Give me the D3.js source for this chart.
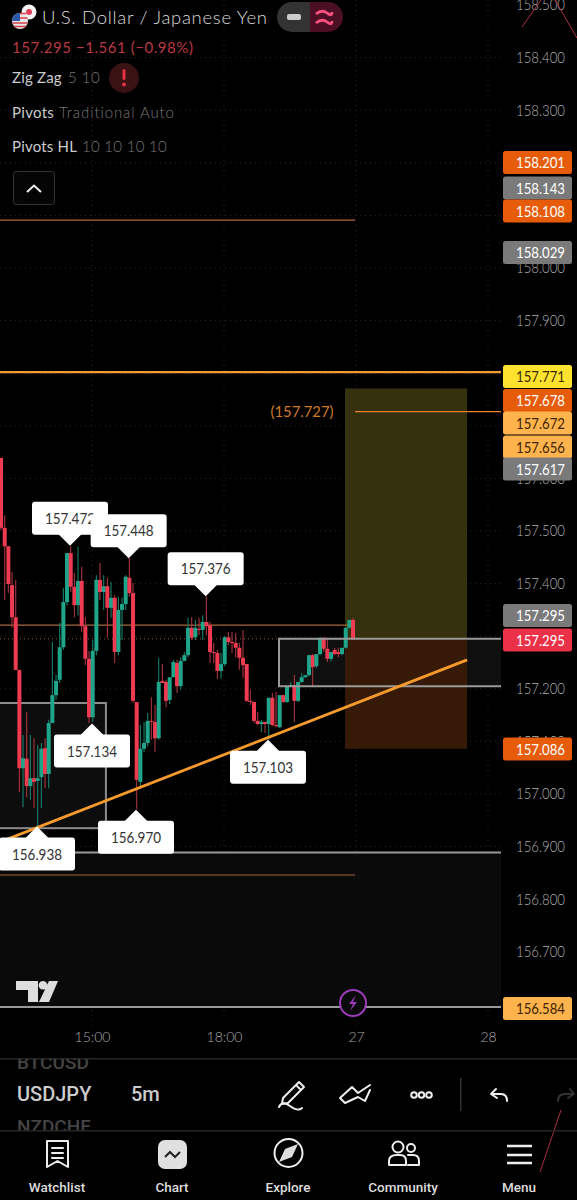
<!DOCTYPE html>
<html><head><meta charset="utf-8">
<script src="https://cdn.jsdelivr.net/npm/d3@7"></script>
<style>html,body{margin:0;background:#000;overflow:hidden}svg{display:block}</style>
</head><body><svg id="c" width="577" height="1200"></svg>
<script>
// ---- data ----
const firstBar = -25; // bar number of first candle; bar 0 = 15:00, one bar = 5m
const opens = [157.639,157.506,157.471,157.397,157.336,157.236,157.049,157.067,157.015,157.030,157.025,157.032,157.087,157.038,157.135,157.188,157.217,157.279,157.365,157.458,157.394,157.359,157.405,157.319,157.257,157.146,157.272,157.407,157.384,157.395,157.354,157.373,157.270,157.350,157.361,157.411,157.382,157.175,157.023,157.086,157.097,157.139,157.137,157.106,157.215,157.213,157.179,157.222,157.249,157.205,157.253,157.264,157.316,157.298,157.314,157.312,157.327,157.321,157.270,157.268,157.234,157.247,157.298,157.289,157.287,157.278,157.259,157.247,157.177,157.175,157.139,157.133,157.137,157.133,157.183,157.131,157.127,157.188,157.175,157.205,157.207,157.177,157.213,157.222,157.226,157.264,157.243,157.266,157.297,157.276,157.257,157.274,157.270,157.266,157.278,157.316,157.331];
const highs = [157.639,157.530,157.471,157.422,157.407,157.236,157.112,157.156,157.112,157.106,157.093,157.097,157.106,157.141,157.289,157.226,157.325,157.392,157.458,157.471,157.420,157.470,157.432,157.336,157.272,157.293,157.416,157.439,157.416,157.411,157.403,157.378,157.375,157.373,157.416,157.449,157.401,157.175,157.131,157.137,157.154,157.184,157.169,157.259,157.247,157.217,157.222,157.255,157.255,157.260,157.270,157.335,157.336,157.331,157.335,157.340,157.376,157.327,157.287,157.274,157.268,157.300,157.308,157.308,157.306,157.287,157.312,157.247,157.198,157.175,157.156,157.141,157.137,157.143,157.192,157.194,157.137,157.188,157.203,157.213,157.226,157.211,157.230,157.223,157.228,157.266,157.264,157.268,157.298,157.297,157.261,157.278,157.278,157.274,157.278,157.318,157.335,157.331];
const lows = [157.502,157.369,157.382,157.316,157.236,157.004,156.975,156.994,156.989,156.973,156.937,156.973,157.011,157.011,157.135,157.179,157.211,157.274,157.359,157.384,157.336,157.340,157.308,157.245,157.135,157.137,157.264,157.369,157.350,157.297,157.335,157.249,157.264,157.293,157.350,157.375,157.173,156.971,157.011,157.080,157.091,157.103,157.080,157.103,157.211,157.165,157.171,157.222,157.192,157.198,157.253,157.260,157.293,157.293,157.302,157.293,157.302,157.249,157.249,157.219,157.219,157.243,157.283,157.268,157.260,157.236,157.221,157.175,157.169,157.135,157.131,157.118,157.116,157.103,157.129,157.127,157.125,157.173,157.173,157.205,157.137,157.175,157.211,157.221,157.224,157.203,157.239,157.264,157.270,157.251,157.252,157.264,157.260,157.264,157.276,157.314,157.293];
const closes = [157.506,157.471,157.399,157.336,157.236,157.049,157.068,157.015,157.030,157.023,157.030,157.086,157.038,157.135,157.188,157.215,157.279,157.365,157.458,157.394,157.359,157.405,157.319,157.257,157.146,157.272,157.407,157.384,157.395,157.354,157.373,157.270,157.350,157.361,157.413,157.382,157.177,157.027,157.086,157.097,157.139,157.137,157.106,157.213,157.211,157.177,157.222,157.251,157.205,157.253,157.264,157.316,157.297,157.316,157.312,157.327,157.319,157.270,157.268,157.234,157.247,157.298,157.289,157.287,157.278,157.259,157.245,157.177,157.175,157.139,157.133,157.137,157.133,157.183,157.131,157.129,157.188,157.175,157.205,157.207,157.177,157.213,157.222,157.226,157.264,157.241,157.266,157.297,157.276,157.257,157.270,157.266,157.266,157.278,157.316,157.331,157.295];
const priceTicks = [158.5,158.4,158.3,158.0,157.9,157.6,157.5,157.4,157.2,157.1,157.0,156.9,156.8,156.7];
const gridPrices = [158.4,158.3,158.2,158.1,158.0,157.9,157.8,157.7,157.6,157.5,157.4,157.3,157.2,157.1,157.0,156.9,156.8,156.7];
const timeTickBars = [0,36,72,108];
const timeTickLabels = ["15:00","18:00","27","28"];
const tagValues = ["158.201","158.143","158.108","158.029","157.771","157.678","157.672","157.656","157.617","157.295","157.295","157.086","156.584"];
const tagKinds = ["o","g","o","g","y","o","l","l","g","g","r","o","l"];
const pivotValues = [157.472,157.448,157.376,157.134,156.970,156.938,157.103];
const pivotBars = [-6,10,31,0,12,-15,48];
const pivotSides = ["up","up","up","down","down","down","down"];
const solidLevels = [158.091,157.802,156.889,156.595];
const thinLevels = [158.091,157.321,156.846];
const entryPrice = 157.295, targetPrice = 157.771, stopPrice = 157.086, midTarget = 157.727;
const trendBars = [-25,102.3], trendPrices = [156.909,157.255];
const boxA = {bars:[-30,3.8], prices:[157.173,156.935]};
const boxB = {bars:[51,111], prices:[157.295,157.205]};

// ---- scales ----
const W = 577, plotR = 501;
const x = d3.scaleLinear().domain([0,36]).range([92,224]);
const y = d3.scaleLinear().domain([157.5,156.9]).range([531,846.6]);
const svg = d3.select("#c");
const sans = "Lato, 'Noto Sans', sans-serif";
svg.append("rect").attr("width",W).attr("height",1200).attr("fill","#000");

// grid
const grid = svg.append("g").attr("stroke","#262626").attr("stroke-dasharray","1 4");
gridPrices.forEach(p=>grid.append("line").attr("x1",0).attr("x2",plotR).attr("y1",y(p)).attr("y2",y(p)));
timeTickBars.forEach(b=>grid.append("line").attr("x1",x(b)).attr("x2",x(b)).attr("y1",0).attr("y2",1028));

// shaded zones
svg.append("rect").attr("x",0).attr("width",plotR).attr("y",y(156.889)).attr("height",y(156.595)-y(156.889)).attr("fill","#0a0a0a");
function box(b){
  svg.append("rect").attr("x",Math.max(-3,x(b.bars[0]))).attr("y",y(b.prices[0]))
    .attr("width",x(b.bars[1])-Math.max(-3,x(b.bars[0]))).attr("height",y(b.prices[1])-y(b.prices[0]))
    .attr("fill","#0d0d0d").attr("stroke","#8c8c8c").attr("stroke-width",2);
}
box(boxA);
svg.append("rect").attr("x",x(51)).attr("y",y(157.295)).attr("width",plotR-x(51)).attr("height",y(157.205)-y(157.295)).attr("fill","#0f0f0f");

// long position
const lx0 = x(69), lx1 = 467;
svg.append("rect").attr("x",lx0).attr("width",lx1-lx0).attr("y",y(targetPrice)).attr("height",y(entryPrice)-y(targetPrice)).attr("fill","#35310e");
svg.append("rect").attr("x",lx0).attr("width",lx1-lx0).attr("y",y(entryPrice)).attr("height",y(stopPrice)-y(entryPrice)).attr("fill","#361a07");

// levels
const lv = svg.append("g");
[[158.091,355,"#b0683a",1.2],[157.321,355,"#a5683c",1.2],[156.846,355,"#a8623a",1.2]].forEach(d=>
  lv.append("line").attr("x1",0).attr("x2",d[1]).attr("y1",y(d[0])).attr("y2",y(d[0])).attr("stroke",d[2]).attr("stroke-width",d[3]));
lv.append("line").attr("x1",355).attr("x2",plotR).attr("y1",y(midTarget)).attr("y2",y(midTarget)).attr("stroke","#e8822c").attr("stroke-width",1.3);
lv.append("line").attr("x1",0).attr("x2",plotR).attr("y1",y(157.802)).attr("y2",y(157.802)).attr("stroke","#f59a2c").attr("stroke-width",2.4);
lv.append("line").attr("x1",0).attr("x2",lx0).attr("y1",y(entryPrice)).attr("y2",y(entryPrice)).attr("stroke","#8a5a30").attr("stroke-dasharray","1 3");

// candles
const bars = opens.map((o,i)=>({b:firstBar+i,o,h:highs[i],l:lows[i],c:closes[i]}));
const up="#1fa58a", dn="#ee3b52";
const cg = svg.append("g");
cg.selectAll("line").data(bars).join("line")
  .attr("x1",d=>x(d.b)+0.7).attr("x2",d=>x(d.b)+0.7).attr("y1",d=>y(d.h)).attr("y2",d=>y(d.l))
  .attr("stroke",d=>d.c>=d.o?"#17806c":"#a8353f").attr("stroke-width",1.1);
cg.selectAll("rect").data(bars).join("rect")
  .attr("x",d=>x(d.b)-1.3).attr("width",4)
  .attr("y",d=>y(Math.max(d.o,d.c))).attr("height",d=>Math.max(1,Math.abs(y(d.o)-y(d.c))))
  .attr("fill",d=>d.c>=d.o?up:dn);

// box outlines drawn above candles
svg.append("path").attr("d",`M${plotR},${y(157.295)}H${x(51)}V${y(157.205)}H${plotR}`).attr("fill","none").attr("stroke","#9a9a9a").attr("stroke-width",2);
solidLevels.slice(2).forEach(p=>svg.append("line").attr("x1",0).attr("x2",plotR).attr("y1",y(p)).attr("y2",y(p)).attr("stroke","#9a9a9a").attr("stroke-width",2));

// trend line
svg.append("line").attr("x1",x(trendBars[0])).attr("x2",x(trendBars[1])).attr("y1",y(trendPrices[0])).attr("y2",y(trendPrices[1]))
  .attr("stroke","#f59a2c").attr("stroke-width",2.8);

// position target label
svg.append("text").attr("x",302).attr("y",y(midTarget)+5).attr("text-anchor","middle").attr("fill","#d07a2e")
  .attr("font-family",sans).attr("font-size",14.5).attr("font-weight",400).attr("textLength",63).attr("lengthAdjust","spacingAndGlyphs").text(`(${midTarget.toFixed(3)})`);

// pivot callouts
const pg = svg.append("g");
pivotValues.forEach((v,i)=>{
  const tx = x(pivotBars[i]), ty = y(v), up_ = pivotSides[i]==="up", g = pg.append("g");
  const by = up_ ? ty-11-33 : ty+11;
  const bx = tx-38;
  g.append("path").attr("d",`M${tx-12},${up_?by+32:by+1}L${tx},${ty}L${tx+12},${up_?by+32:by+1}Z`).attr("fill","#fff");
  g.append("rect").attr("x",bx).attr("y",by).attr("width",76).attr("height",33).attr("rx",3).attr("fill","#fff");
  g.append("text").attr("x",tx).attr("y",by+22).attr("text-anchor","middle").attr("fill","#333")
   .attr("font-family",sans).attr("font-size",15.5).attr("font-weight",400).attr("textLength",50).attr("lengthAdjust","spacingAndGlyphs").text(v.toFixed(3));
});

// right axis
const ya = d3.axisRight(y).tickValues(priceTicks).tickFormat(d3.format(".3f")).tickSize(0).tickPadding(0);
const axR = svg.append("g").attr("transform","translate(516,0)").call(ya);
axR.select(".domain").remove();
axR.selectAll("text").attr("fill","#b0b0b0").attr("font-family",sans).attr("font-size",15.5).attr("font-weight",300).attr("textLength",49).attr("lengthAdjust","spacingAndGlyphs");

// price tags (stacked by the app so their centres differ from the values)
const tagCenters = [162.5,188,211,252.5,376.5,400.5,423,447,469,615.5,640,749,1008.5];
const tagFill = {o:"#e65c0a",g:"#7a7a7a",y:"#ffe22e",l:"#ffb34d",r:"#ea3148"};
const tagText = {o:"#fff",g:"#fff",y:"#3a2a00",l:"#3a2400",r:"#fff"};
const tg = svg.append("g");
tagValues.forEach((t,i)=>{
  tg.append("rect").attr("x",503).attr("y",tagCenters[i]-11.5).attr("width",69).attr("height",23).attr("rx",2.5).attr("fill",tagFill[tagKinds[i]]);
  tg.append("text").attr("x",516).attr("y",tagCenters[i]+5.5).attr("fill",tagText[tagKinds[i]]).attr("font-family",sans).attr("font-size",15.5).attr("font-weight",400).attr("textLength",49).attr("lengthAdjust","spacingAndGlyphs").text(t);
});

// time axis
const xa = d3.axisBottom(x).tickValues(timeTickBars).tickFormat((d,i)=>timeTickLabels[i]).tickSize(0).tickPadding(0);
const axB = svg.append("g").attr("transform","translate(0,1032)").call(xa);
axB.select(".domain").remove();
axB.selectAll("text").attr("fill","#aaa").attr("font-family",sans).attr("font-size",14).attr("font-weight",300);

// TV logo
svg.append("path").attr("fill","#ddd").attr("d","M16,981H38V1002H28V990H16ZM43,981A4.3,4.3 0 1 1 42.9,981ZM49,981H58L49,1002H39Z");
// lightning
svg.append("circle").attr("cx",353).attr("cy",1003).attr("r",13).attr("fill","#0a0a0a").attr("stroke","#9a3cb8").attr("stroke-width",2);
svg.append("path").attr("d","M356,995L349,1004H353L350,1011L357,1002H353Z").attr("fill","#9a3cb8");

// header
function t(xp,yp,s,fill,size,w,ls,anchor){return svg.append("text").attr("x",xp).attr("y",yp).attr("fill",fill).attr("font-family",sans).attr("font-size",size).attr("font-weight",w||300).attr("letter-spacing",ls||0).attr("text-anchor",anchor||"start").text(s);}
svg.append("circle").attr("cx",29).attr("cy",12).attr("r",7.5).attr("fill","#f4f4f4");
svg.append("circle").attr("cx",29).attr("cy",12).attr("r",3).attr("fill","#e0405a");
svg.append("circle").attr("cx",20).attr("cy",21).attr("r",8).attr("fill","#e6e6e6");
svg.append("path").attr("d","M12,21A8,8 0 0 1 20,13V21Z").attr("fill","#2f57a8");
svg.append("path").attr("d","M20,13.5H26M20,18H27.5M12.5,23H27.5M14,26.5H26").attr("stroke","#d8404a").attr("stroke-width",1.6);
t(42,24,"U.S. Dollar / Japanese Yen","#dcdcdc",18.5,300,.7);
t(12,53,"157.295  −1.561 (−0.98%)","#b93a44",15,400,.55);
t(12,83,"Zig Zag","#ccc",15,400,.2); t(68,83,"5 10","#777",15,300,.5);
svg.append("circle").attr("cx",124).attr("cy",78).attr("r",15).attr("fill","#3a1214");
svg.append("rect").attr("x",122.5).attr("y",69).attr("width",3).attr("height",11).attr("rx",1.5).attr("fill","#e53040");
svg.append("circle").attr("cx",124).attr("cy",84.5).attr("r",2).attr("fill","#e53040");
t(12,118,"Pivots","#ccc",15,400,.3); t(59,118,"Traditional Auto","#777",15,300,.9);
t(12,152,"Pivots HL","#ccc",15,400,.2); t(82,152,"10 10 10 10","#777",15,300,.3);
svg.append("rect").attr("x",13.5).attr("y",171.5).attr("width",41).attr("height",33).attr("rx",3).attr("fill","#050505").attr("stroke","#333");
svg.append("path").attr("d","M27,192L34,185.5L41,192").attr("fill","none").attr("stroke","#eee").attr("stroke-width",2);
// pill
svg.append("path").attr("d","M310,2H292A15,15 0 0 0 292,32H310Z").attr("fill","#333");
svg.append("path").attr("d","M310,2H328A15,15 0 0 1 328,32H310Z").attr("fill","#4a0f22");
svg.append("rect").attr("x",287).attr("y",14).attr("width",14).attr("height",6).attr("rx",2).attr("fill","#ccc");
svg.append("path").attr("d","M316,14Q322,9 327,13T332,12M316,23Q322,18 327,22T332,21").attr("fill","none").attr("stroke","#ff4f80").attr("stroke-width",2.8);

// scribbles
svg.append("g").attr("fill","none").attr("stroke","#a8323c").attr("stroke-width",1).selectAll("path")
  .data(["M522,27L541,0","M555,0L577,38","M540,1172L561,1110"]).join("path").attr("d",d=>d);

// toolbar
const line = "#262626";
svg.append("rect").attr("y",1058).attr("width",W).attr("height",1.5).attr("fill",line);
svg.append("rect").attr("y",1130).attr("width",W).attr("height",1.5).attr("fill",line);
const rob = "Roboto, sans-serif";
svg.append("defs").append("clipPath").attr("id","tb").append("rect").attr("y",1059).attr("width",W).attr("height",71);
const tb = svg.append("g").attr("clip-path","url(#tb)").attr("font-family",rob);
tb.append("text").attr("x",17).attr("y",1069).attr("fill","#444").attr("font-size",19).attr("font-weight",500).text("BTCUSD");
tb.append("text").attr("x",17).attr("y",1101).attr("fill","#ccc").attr("font-size",20).attr("font-weight",500).text("USDJPY");
tb.append("text").attr("x",131).attr("y",1101).attr("fill","#ccc").attr("font-size",20).attr("font-weight",500).text("5m");
tb.append("text").attr("x",17).attr("y",1133).attr("fill","#444").attr("font-size",19).attr("font-weight",500).text("NZDCHF");
const ic = svg.append("g").attr("fill","none").attr("stroke","#eee").attr("stroke-width",2).attr("stroke-linejoin","round").attr("stroke-linecap","round");
ic.append("path").attr("d","M283,1098L299,1082L304,1087L288,1103L282,1104Z M296,1085L301,1090");
ic.append("path").attr("d","M279,1107Q282,1100 290,1106T302,1108");
ic.append("path").attr("d","M340,1098L352,1087L358,1093L370,1085M340,1098L345,1103L358,1097L365,1101L370,1090");
[414,421.5,429].forEach(cx=>ic.append("circle").attr("cx",cx).attr("cy",1095).attr("r",2.8));
svg.append("rect").attr("x",460).attr("y",1078).attr("width",1.5).attr("height",33).attr("fill","#333");
ic.append("path").attr("d","M496,1089L491,1094L497,1098M491,1094H501Q507,1094 507,1101");
ic.append("path").attr("d","M570,1089L574,1094L568,1098M574,1094H565Q558,1094 558,1101").attr("stroke","#333");

// nav
const labels = [["Watchlist",57],["Chart",172],["Explore",288],["Community",403],["Menu",519]];
labels.forEach(d=>svg.append("text").attr("x",d[1]).attr("y",1192).attr("text-anchor","middle").attr("fill","#ddd").attr("font-family",rob).attr("font-weight",500).attr("font-size",13.5).text(d[0]));
ic.append("path").attr("d","M47,1141H68V1167L57.5,1161L47,1167Z M52,1148H63M52,1153H63M52,1158H63");
svg.append("rect").attr("x",158).attr("y",1140).attr("width",29).attr("height",29).attr("rx",7).attr("fill","#e0e0e0");
svg.append("path").attr("d","M165,1157L170,1152L175,1157L180,1152").attr("fill","none").attr("stroke","#222").attr("stroke-width",2);
ic.append("circle").attr("cx",288.5).attr("cy",1153).attr("r",14);
svg.append("path").attr("d","M279,1162L285,1149L298,1144L292,1157Z").attr("fill","#ddd");
ic.append("circle").attr("cx",398).attr("cy",1147).attr("r",5.5);
ic.append("circle").attr("cx",411).attr("cy",1148).attr("r",4);
ic.append("path").attr("d","M389,1165V1161Q389,1155 397,1155H400Q406,1155 406,1161V1165Z M408,1155H413Q419,1155 419,1161V1165H408");
ic.append("path").attr("d","M507,1146H532M507,1155H532M507,1163H532").attr("stroke-width",2.4).attr("stroke-linecap","butt");
</script></body></html>
